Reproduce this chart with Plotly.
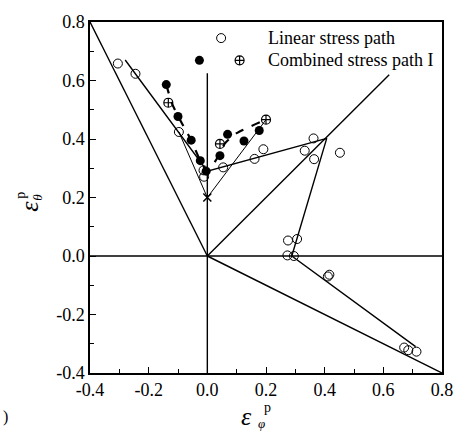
import plotly.graph_objects as go

# Linear stress path (open circles)
lin_x = [-0.305, -0.245, -0.097, -0.013, -0.011, 0.054, 0.161, 0.191, 0.332, 0.362, 0.364, 0.452,
         0.275, 0.306, 0.273, 0.295, 0.416, 0.411, 0.671, 0.685, 0.713]
lin_y = [0.658, 0.623, 0.424, 0.293, 0.271, 0.303, 0.332, 0.365, 0.360, 0.402, 0.331, 0.353,
         0.053, 0.058, 0.002, 0.0, -0.064, -0.070, -0.313, -0.322, -0.327]

# Combined stress path I (filled circles)
filled_x = [-0.140, -0.100, -0.055, -0.024, -0.004, 0.043, 0.069, 0.125, 0.177]
filled_y = [0.586, 0.477, 0.396, 0.326, 0.29, 0.343, 0.416, 0.393, 0.429]

# Combined stress path I (crossed circles)
cross_x = [-0.133, 0.043, 0.200]
cross_y = [0.524, 0.383, 0.466]

# dashed trend through combined path
dash_x = [-0.140, -0.120, -0.090, -0.055, -0.024, 0.0, 0.040, 0.060, 0.100, 0.200]
dash_y = [0.586, 0.520, 0.460, 0.396, 0.326, 0.290, 0.345, 0.385, 0.420, 0.466]

# solid reference lines
ref_lines = [
    ([-0.4, 0.0], [0.8, 0.0]),
    ([0.0, 0.8], [0.0, -0.4]),
    ([0.0, 0.62], [0.0, 0.62]),
    ([0.0, 0.0], [-0.4, 0.625]),
    ([-0.4, 0.8], [0.0, 0.0]),
]
# fitted path through linear stress path data
path_x = [-0.28, 0.0, 0.407, 0.288, 0.71]
path_y = [0.67, 0.29, 0.402, 0.0, -0.31]
# thin lines through the × point
thin_lines = [
    ([-0.097, 0.0], [0.424, 0.2]),
    ([0.0, 0.2], [0.2, 0.466]),
]
star_x = [0.0]
star_y = [0.2]

x_ticks = [-0.4, -0.2, 0.0, 0.2, 0.4, 0.6, 0.8]
x_tick_text = ["-0.4", "-0.2", "0.0", "0.2", "0.4", "0.6", "0.8"]
y_ticks = [-0.4, -0.2, 0.0, 0.2, 0.4, 0.6, 0.8]
y_tick_text = ["-0.4", "-0.2", "0.0", "0.2", "0.4", "0.6", "0.8"]

# legend keys
leg_open = ([0.047], [0.745])
leg_filled = ([-0.027], [0.669])
leg_cross = ([0.110], [0.669])
leg_text = ["Linear stress path", "Combined stress path I"]
leg_text_y = [0.745, 0.669]

FONT = "Liberation Serif, Times New Roman, serif"

fig = go.Figure()
for lx, ly in ref_lines:
    fig.add_trace(go.Scatter(x=lx, y=ly, mode="lines", line=dict(color="black", width=1.4),
                             showlegend=False, hoverinfo="skip"))
fig.add_trace(go.Scatter(x=path_x, y=path_y, mode="lines", line=dict(color="black", width=1.4),
                         showlegend=False))
for lx, ly in thin_lines:
    fig.add_trace(go.Scatter(x=lx, y=ly, mode="lines", line=dict(color="black", width=1),
                             showlegend=False))
fig.add_trace(go.Scatter(x=dash_x, y=dash_y, mode="lines",
                         line=dict(color="black", width=2.2, dash="dash", shape="spline", smoothing=0.6),
                         showlegend=False))
fig.add_trace(go.Scatter(x=lin_x, y=lin_y, mode="markers",
                         marker=dict(symbol="circle-open", size=9, color="black", line=dict(width=1)),
                         showlegend=False))
fig.add_trace(go.Scatter(x=filled_x, y=filled_y, mode="markers",
                         marker=dict(symbol="circle", size=9, color="black"), showlegend=False))
fig.add_trace(go.Scatter(x=cross_x, y=cross_y, mode="markers",
                         marker=dict(symbol="circle-cross-open", size=9, color="black", line=dict(width=1.2)),
                         showlegend=False))
fig.add_trace(go.Scatter(x=star_x, y=star_y, mode="markers",
                         marker=dict(symbol="x-thin-open", size=8, color="black", line=dict(width=1.5)),
                         showlegend=False))
# legend keys
fig.add_trace(go.Scatter(x=leg_open[0], y=leg_open[1], mode="markers",
                         marker=dict(symbol="circle-open", size=9, color="black", line=dict(width=1)),
                         showlegend=False))
fig.add_trace(go.Scatter(x=leg_filled[0], y=leg_filled[1], mode="markers",
                         marker=dict(symbol="circle", size=9, color="black"), showlegend=False))
fig.add_trace(go.Scatter(x=leg_cross[0], y=leg_cross[1], mode="markers",
                         marker=dict(symbol="circle-cross-open", size=9, color="black", line=dict(width=1.2)),
                         showlegend=False))
for t, ty in zip(leg_text, leg_text_y):
    fig.add_annotation(x=0.199, y=ty, text=t, showarrow=False, xanchor="left", yanchor="middle",
                       font=dict(family=FONT, size=18, color="black"))

# axis titles with stacked super/subscripts
def paper_txt(x, y, text, size, angle=0, italic=False):
    fig.add_annotation(xref="paper", yref="paper", x=x, y=y, text=(f"<i>{text}</i>" if italic else text),
                       showarrow=False, xanchor="center", yanchor="middle", textangle=angle,
                       borderpad=0, font=dict(family=FONT, size=size, color="black"))

paper_txt(0.446, -0.124, "ε", 26, italic=True)
paper_txt(0.503, -0.097, "p", 14)
paper_txt(0.486, -0.144, "φ", 13, italic=True)

paper_txt(-0.172, 0.475, "ε", 26, angle=-90, italic=True)
paper_txt(-0.196, 0.505, "p", 14, angle=-90)
paper_txt(-0.150, 0.500, "θ", 13, angle=-90, italic=True)

fig.add_annotation(xref="paper", yref="paper", x=-0.252, y=-0.125, text=")", showarrow=False,
                   font=dict(family=FONT, size=16, color="black"), xanchor="left", yanchor="middle")

axis_common = dict(showgrid=False, zeroline=False, showline=True, linecolor="black", linewidth=1.5,
                   mirror=True, ticks="inside", tickcolor="black", tickwidth=1, ticklen=6,
                   tickfont=dict(family=FONT, size=18, color="black"))
fig.update_xaxes(range=[-0.4, 0.8], tickvals=x_ticks, ticktext=x_tick_text,
                 minor=dict(dtick=0.1, ticks="inside", ticklen=4, tickcolor="black"),
                 **axis_common)
fig.update_yaxes(range=[-0.4, 0.8], tickvals=y_ticks, ticktext=y_tick_text,
                 minor=dict(dtick=0.1, ticks="inside", ticklen=4, tickcolor="black"),
                 **axis_common)
fig.update_layout(width=465, height=432, margin=dict(l=90, r=18, t=14, b=59),
                  plot_bgcolor="white", paper_bgcolor="white", showlegend=False)
fig.write_html("out.html")
